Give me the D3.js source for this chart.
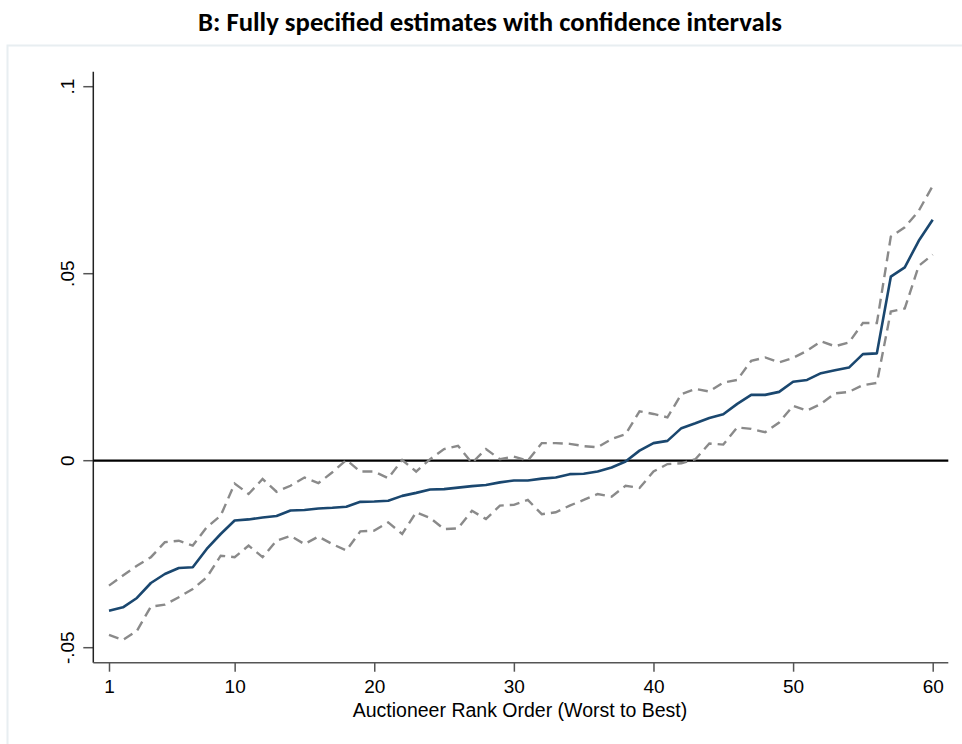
<!DOCTYPE html>
<html>
<head>
<meta charset="utf-8">
<script src="https://cdn.jsdelivr.net/npm/d3@7"></script>
<style>
  html, body { margin: 0; padding: 0; background: #fff; }
  svg { display: block; }
  .tick text { font-family: "Liberation Sans", Arial, sans-serif; }
</style>
</head>
<body>
<svg id="chart" width="962" height="744"></svg>
<script>
// Auctioneer rank order (worst to best)
const ranks = d3.range(1, 61);

// Point estimates
const estimate = [
  -0.0401, -0.0392, -0.0367, -0.0327, -0.0303, -0.0287, -0.0285, -0.0236, -0.0196, -0.0160,
  -0.0157, -0.0152, -0.0148, -0.0133, -0.0132, -0.0128, -0.0126, -0.0123, -0.0110, -0.0109,
  -0.0107, -0.0094, -0.0086, -0.0077, -0.0076, -0.0072, -0.0068, -0.0065, -0.0058, -0.0053,
  -0.0053, -0.0048, -0.0045, -0.0036, -0.0035, -0.0029, -0.0018, -0.0002, 0.0027, 0.0047,
  0.0053, 0.0087, 0.0100, 0.0114, 0.0124, 0.0152, 0.0176, 0.0176, 0.0184, 0.0211,
  0.0216, 0.0234, 0.0242, 0.0249, 0.0285, 0.0287, 0.0492, 0.0517, 0.0588, 0.0644
];

// Upper bound of the confidence interval
const upper = [
  -0.0334, -0.0307, -0.0281, -0.0258, -0.0218, -0.0214, -0.0227, -0.0178, -0.0147, -0.0061,
  -0.0089, -0.0049, -0.0083, -0.0067, -0.0045, -0.0060, -0.0031, 0.0002, -0.0029, -0.0029,
  -0.0047, 0.0002, -0.0029, 0.0004, 0.0031, 0.0040, -0.0006, 0.0031, 0.0004, 0.0011,
  0.0000, 0.0047, 0.0047, 0.0045, 0.0039, 0.0036, 0.0058, 0.0071, 0.0132, 0.0125,
  0.0116, 0.0178, 0.0192, 0.0185, 0.0209, 0.0216, 0.0267, 0.0276, 0.0263, 0.0275,
  0.0294, 0.0319, 0.0306, 0.0316, 0.0368, 0.0368, 0.0599, 0.0624, 0.0668, 0.0735
];

// Lower bound of the confidence interval
const lower = [
  -0.0466, -0.0479, -0.0455, -0.0390, -0.0385, -0.0365, -0.0343, -0.0312, -0.0254, -0.0258,
  -0.0227, -0.0258, -0.0214, -0.0201, -0.0223, -0.0203, -0.0223, -0.0240, -0.0189, -0.0187,
  -0.0165, -0.0196, -0.0138, -0.0153, -0.0183, -0.0181, -0.0134, -0.0156, -0.0120, -0.0118,
  -0.0105, -0.0143, -0.0138, -0.0120, -0.0105, -0.0089, -0.0096, -0.0067, -0.0073, -0.0029,
  -0.0009, -0.0007, 0.0004, 0.0046, 0.0043, 0.0089, 0.0085, 0.0076, 0.0102, 0.0147,
  0.0134, 0.0152, 0.0180, 0.0184, 0.0202, 0.0208, 0.0399, 0.0407, 0.0521, 0.0551
];

const xTicks = [1, 10, 20, 30, 40, 50, 60];
const yTicks = [-0.05, 0, 0.05, 0.1];
const yTickLabels = ["-.05", "0", ".05", ".1"];

const svg = d3.select("#chart");
const sans = '"Liberation Sans", Arial, sans-serif';

// Title
svg.append("text")
  .attr("x", 490).attr("y", 31)
  .attr("text-anchor", "middle")
  .attr("font-family", 'Carlito, Calibri, Lato, "Open Sans", sans-serif')
  .attr("font-weight", "bold")
  .attr("font-size", 26)
  .attr("textLength", 584)
  .attr("lengthAdjust", "spacingAndGlyphs")
  .attr("fill", "#000")
  .text("B: Fully specified estimates with confidence intervals");

// Graph region border
svg.append("rect")
  .attr("x", 7.5).attr("y", 45.5)
  .attr("width", 970).attr("height", 720)
  .attr("fill", "#fff")
  .attr("stroke", "#e8eef1")
  .attr("stroke-width", 2);

// Scales
const x = d3.scaleLinear().domain([1, 60]).range([109, 932.7]);
const y = d3.scaleLinear().domain([-0.05, 0.1]).range([647.7, 86.7]);

const plotLeft = 93.3, plotRight = 948.3, plotTop = 71.7, plotBottom = 662.7;

// Y axis
const yAxis = d3.axisLeft(y)
  .tickValues(yTicks)
  .tickSize(10)
  .tickFormat((d, i) => yTickLabels[i]);
const gy = svg.append("g").attr("transform", `translate(${plotLeft},0)`).call(yAxis);
gy.select(".domain").remove();
gy.selectAll(".tick").attr("transform", null);
gy.selectAll(".tick line")
  .attr("y1", d => y(d)).attr("y2", d => y(d))
  .attr("stroke", "#555").attr("stroke-width", 1.5);
gy.selectAll(".tick text")
  .attr("font-size", 19)
  .attr("fill", "#000")
  .attr("text-anchor", "middle")
  .attr("x", -26)
  .attr("y", d => y(d))
  .attr("dy", "0.35em")
  .attr("transform", d => `rotate(-90, -26, ${y(d)})`);

// X axis
const xAxis = d3.axisBottom(x)
  .tickValues(xTicks)
  .tickSize(9)
  .tickPadding(8)
  .tickFormat(d3.format("d"));
const gx = svg.append("g").attr("transform", `translate(0,${plotBottom})`).call(xAxis);
gx.select(".domain").remove();
gx.selectAll(".tick line").attr("stroke", "#555").attr("stroke-width", 1.5);
gx.selectAll(".tick text").attr("font-size", 19).attr("fill", "#000");

// Axis lines
svg.append("line")
  .attr("x1", plotLeft).attr("x2", plotLeft)
  .attr("y1", plotTop).attr("y2", plotBottom)
  .attr("stroke", "#222").attr("stroke-width", 1.5);
svg.append("line")
  .attr("x1", plotLeft).attr("x2", plotRight)
  .attr("y1", plotBottom).attr("y2", plotBottom)
  .attr("stroke", "#555").attr("stroke-width", 1.5);

// X axis title
svg.append("text")
  .attr("x", 520).attr("y", 717)
  .attr("text-anchor", "middle")
  .attr("font-family", sans)
  .attr("font-size", 19.5)
  .attr("fill", "#000")
  .text("Auctioneer Rank Order (Worst to Best)");

// Zero reference line
svg.append("line")
  .attr("x1", plotLeft).attr("x2", plotRight)
  .attr("y1", y(0)).attr("y2", y(0))
  .attr("stroke", "#000").attr("stroke-width", 2.2);

const line = d3.line().x((d, i) => x(ranks[i])).y(d => y(d));

// Confidence bounds
[upper, lower].forEach(series => {
  svg.append("path")
    .datum(series)
    .attr("d", line)
    .attr("fill", "none")
    .attr("stroke", "#8a8a8a")
    .attr("stroke-width", 2.4)
    .attr("stroke-dasharray", "10,6");
});

// Estimates
svg.append("path")
  .datum(estimate)
  .attr("d", line)
  .attr("fill", "none")
  .attr("stroke", "#1a476f")
  .attr("stroke-width", 2.6)
  .attr("stroke-linejoin", "round");
</script>
</body>
</html>
